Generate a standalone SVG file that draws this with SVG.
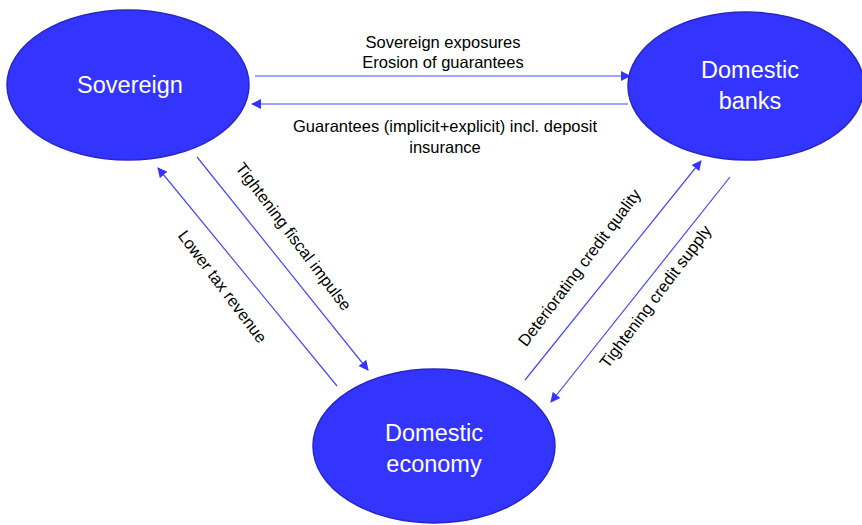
<svg xmlns="http://www.w3.org/2000/svg" width="862" height="525" viewBox="0 0 862 525">
<style>
.node{fill:#3434ff;stroke:#2727c4;stroke-width:1.5}
.nt{font-family:"Liberation Sans",Arial,sans-serif;font-size:23.5px;fill:#ffffff;text-anchor:middle}
.lt{font-family:"Liberation Sans",Arial,sans-serif;font-size:16.5px;fill:#000000;text-anchor:middle}
.edge{stroke:#4646ff;stroke-width:1.2;fill:none;marker-end:url(#ah)}
</style>
<defs>
<marker id="ah" viewBox="0 0 10 10" refX="9" refY="5" markerWidth="10" markerHeight="10" markerUnits="userSpaceOnUse" orient="auto">
<path d="M0,0 L10,5 L0,10 Z" fill="#3434ff"/>
</marker>
</defs>
<rect width="862" height="525" fill="#ffffff"/>
<g id="connectors">
<line class="edge" x1="255" y1="76" x2="630" y2="76"/>
<line class="edge" x1="628" y1="104" x2="252" y2="104"/>
<line class="edge" x1="197" y1="157" x2="368" y2="370"/>
<line class="edge" x1="337" y1="386" x2="158" y2="168"/>
<line class="edge" x1="525" y1="380" x2="701" y2="161"/>
<line class="edge" x1="730" y1="177" x2="551" y2="402"/>
<text class="lt" x="443" y="48">Sovereign exposures</text>
<text class="lt" x="443" y="68">Erosion of guarantees</text>
<text class="lt" x="445" y="132">Guarantees (implicit+explicit) incl. deposit</text>
<text class="lt" x="445" y="153">insurance</text>
<text class="lt" transform="translate(293,237) rotate(53)" dy="5">Tightening fiscal impulse</text>
<text class="lt" transform="translate(222,287) rotate(53)" dy="5">Lower tax revenue</text>
<text class="lt" transform="translate(580,268) rotate(-53)" dy="5">Deteriorating credit quality</text>
<text class="lt" transform="translate(656,297) rotate(-53)" dy="5">Tightening credit supply</text>
</g>
<g id="sovereign">
<ellipse class="node" cx="128" cy="85" rx="121" ry="75"/>
<text class="nt" x="130" y="93">Sovereign</text>
</g>
<g id="banks">
<ellipse class="node" cx="746" cy="86" rx="118" ry="74"/>
<text class="nt" x="750" y="78">Domestic</text>
<text class="nt" x="750" y="109">banks</text>
</g>
<g id="economy">
<ellipse class="node" cx="434" cy="446" rx="121" ry="77"/>
<text class="nt" x="434" y="441">Domestic</text>
<text class="nt" x="434" y="472">economy</text>
</g>
</svg>
